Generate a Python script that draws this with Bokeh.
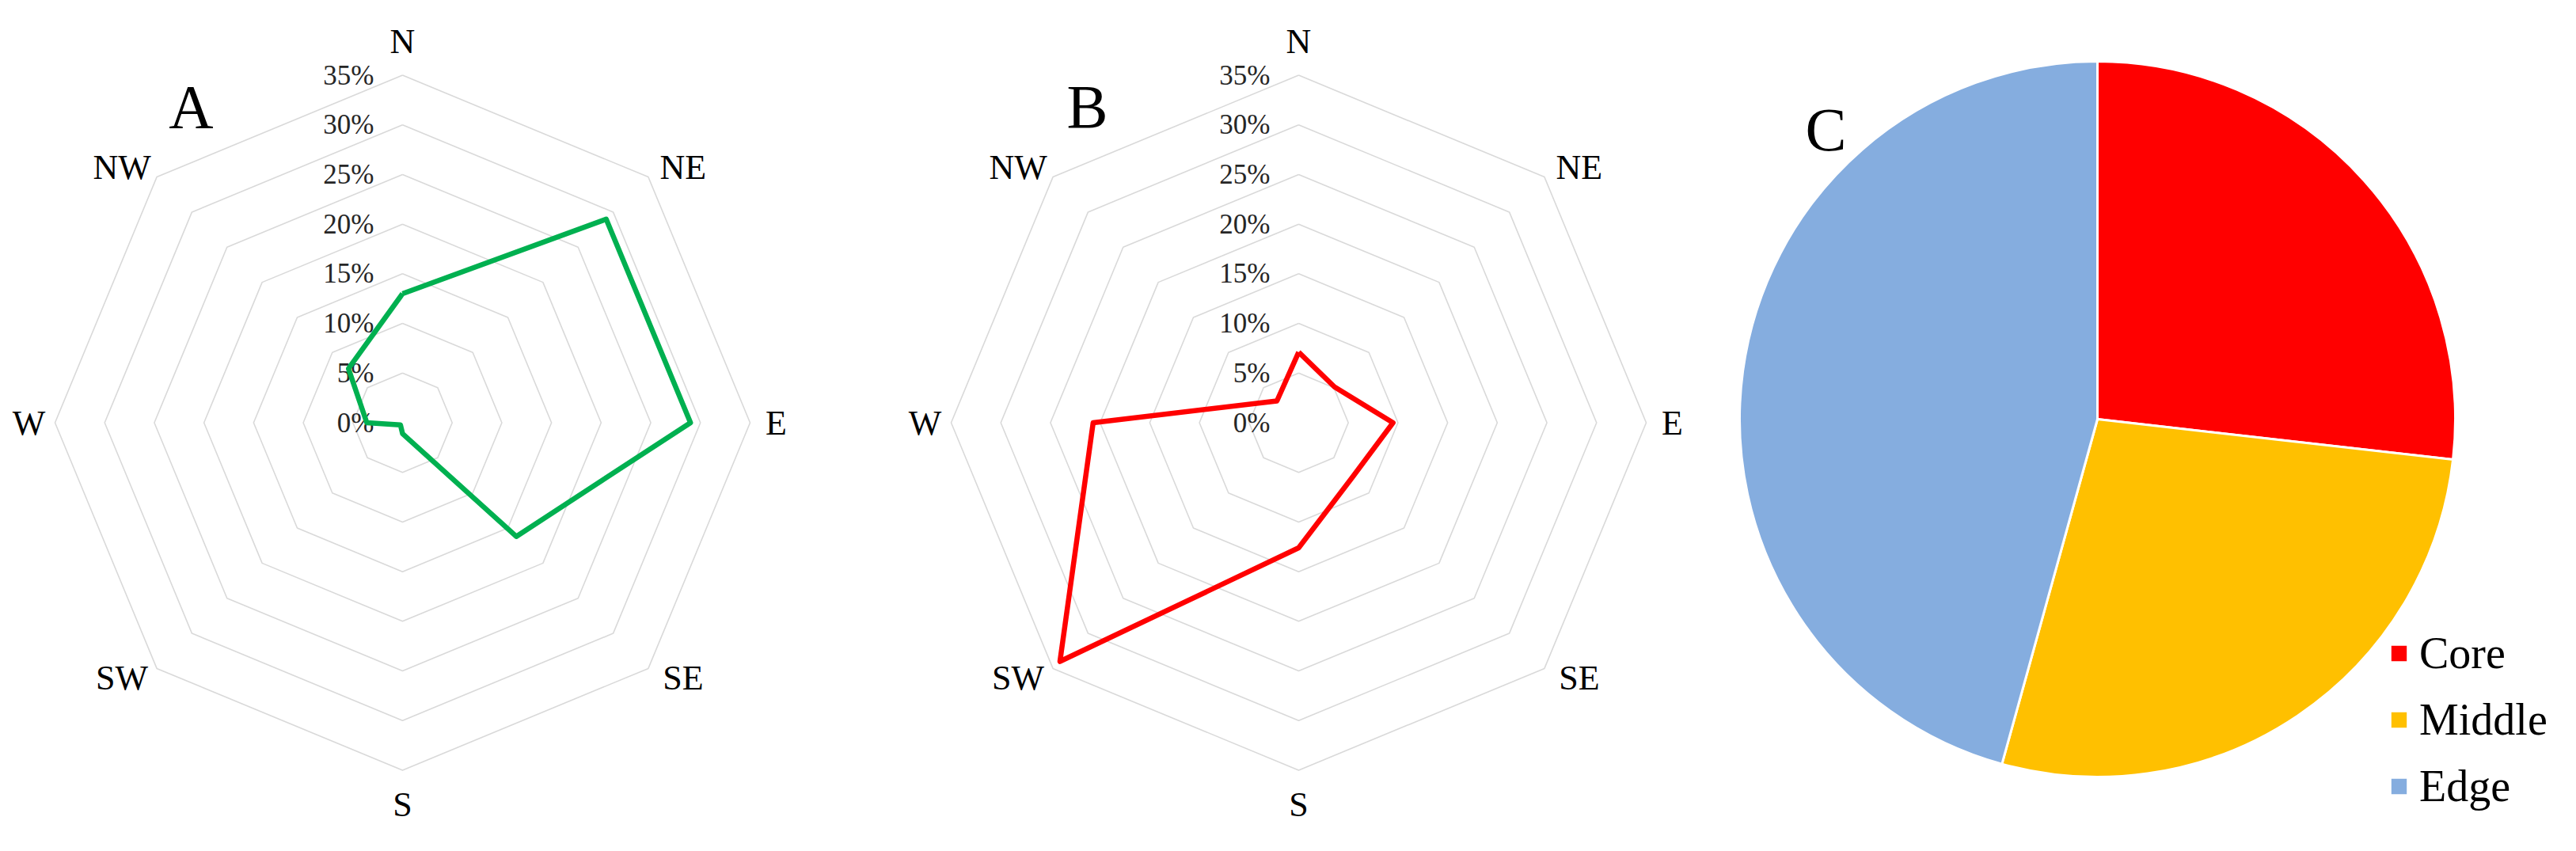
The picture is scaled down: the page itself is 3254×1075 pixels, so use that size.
import numpy as np
from bokeh.plotting import figure
from bokeh.layouts import row
from bokeh.models import ColumnDataSource, Range1d, Legend, LegendItem
from bokeh.core.properties import value
from bokeh.embed import file_html
from bokeh.resources import INLINE

# ---------------- data ----------------
directions = ["N", "NE", "E", "SE", "S", "SW", "W", "NW"]
tick_values = [0, 5, 10, 15, 20, 25, 30, 35]
tick_labels = ["0%", "5%", "10%", "15%", "20%", "25%", "30%", "35%"]
freq_a = [13.0, 29.0, 29.0, 16.2, 1.1, 0.3, 3.6, 7.7]      # panel A (%)
freq_b = [7.1, 5.1, 9.5, 7.7, 12.6, 34.0, 20.7, 3.1]       # panel B (%)
zones = ["Core", "Middle", "Edge"]
zone_share = [26.8, 27.5, 45.7]
zone_colors = ["#FF0000", "#FFC000", "#85ADDF"]

# ---------------- layout constants ----------------
H = 1059
SERIF = "Liberation Serif"
PX = 439 / 35.0          # pixels per percent on the radar charts
GRID = "#D9D9D9"


def base_fig(width, xr, yr):
    p = figure(width=width, height=H, x_range=Range1d(*xr), y_range=Range1d(*yr),
               output_backend="svg", toolbar_location=None, tools="", min_border=0)
    p.axis.visible = False
    p.grid.visible = False
    p.outline_line_color = None
    p.background_fill_color = "white"
    p.border_fill_color = "white"
    return p


def radar(width, cx, cy, values, color, letter):
    p = base_fig(width, (-cx / PX, (width - cx) / PX), (-(H - cy) / PX, cy / PX))
    n = len(directions)
    ang = np.deg2rad(np.arange(n) * 360.0 / n)
    s, c = np.sin(ang), np.cos(ang)

    # rings
    xs, ys = [], []
    for t in tick_values[1:]:
        xs.append(list(t * s) + [t * s[0]])
        ys.append(list(t * c) + [t * c[0]])
    p.multi_line(xs=xs, ys=ys, line_color=GRID, line_width=1.6)

    # tick labels
    p.text(x=[-36 / PX] * len(tick_values), y=tick_values, text=tick_labels,
           text_align="right", text_baseline="middle", text_font=value(SERIF),
           text_font_size="35px", text_color="#262626")

    # direction labels
    rmax = tick_values[-1]
    diag = (np.arange(n) % 2 == 1)
    sx = np.sign(np.round(s, 6))
    sy = np.sign(np.round(c, 6))
    lx = rmax * s + sx * np.where(diag, 44, 33) / PX
    ly = rmax * c + sy * np.where(diag, 12, 43) / PX
    p.text(x=lx, y=ly, text=directions, text_align="center", text_baseline="middle",
           text_font=value(SERIF), text_font_size="44px", text_color="black")

    # panel letter
    p.text(x=[-267 / PX], y=[400 / PX], text=[letter], text_align="center",
           text_baseline="alphabetic", text_font=value(SERIF), text_font_size="78px",
           text_color="black")

    # data polygon
    v = np.array(values, dtype=float)
    p.line(x=list(v * s) + [v[0] * s[0]], y=list(v * c) + [v[0] * c[0]],
           line_color=color, line_width=6.5, line_join="round")
    return p


pA = radar(1082, 508, 533.5, freq_a, "#00B050", "A")
pB = radar(1110, 558, 533.5, freq_b, "#FF0000", "B")

# ---------------- pie ----------------
WC = 1046
pcx, pcy = 457, 529
R = 452
pC = base_fig(WC, (-pcx, WC - pcx), (-(H - pcy), pcy))
share = np.array(zone_share, dtype=float)
frac = share / share.sum()
cum = np.cumsum(frac)
start = np.pi / 2 - 2 * np.pi * (cum - frac)
end = np.pi / 2 - 2 * np.pi * cum
src = ColumnDataSource(dict(zone=zones, start=start, end=end, color=zone_colors))
wr = pC.wedge(x=0, y=0, radius=R, start_angle="start", end_angle="end", direction="clock",
              fill_color="color", line_color="white", line_width=3, source=src)
pC.text(x=[-343], y=[366], text=["C"], text_align="center", text_baseline="alphabetic",
        text_font=value(SERIF), text_font_size="78px", text_color="black")

legend = Legend(items=[LegendItem(label=z, renderers=[wr], index=i) for i, z in enumerate(zones)],
                location=(824, 34), orientation="vertical", padding=0, margin=0, spacing=20,
                glyph_width=28, glyph_height=28, label_height=64, label_standoff=12,
                label_text_font=SERIF, label_text_font_size="56px",
                label_text_color="black", border_line_color=None,
                background_fill_alpha=0)
pC.add_layout(legend, "center")

layout = row(pA, pB, pC)
open("out.html", "w").write(file_html(layout, INLINE))
